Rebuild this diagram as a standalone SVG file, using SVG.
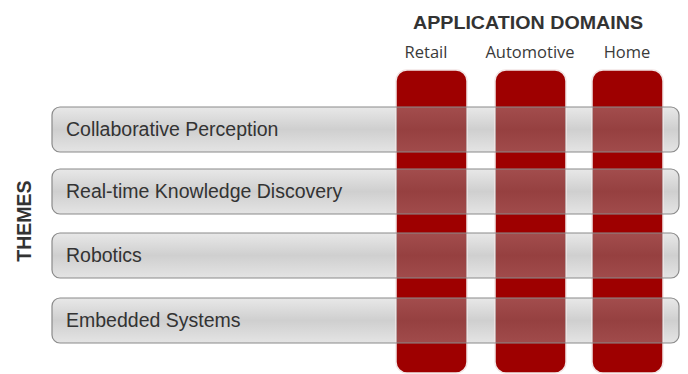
<svg xmlns="http://www.w3.org/2000/svg" width="688" height="374" viewBox="0 0 688 374">
  <defs>
    <linearGradient id="barFill" x1="0" y1="0" x2="0" y2="1">
      <stop offset="0" stop-color="#e8e8e8"/>
      <stop offset="0.5" stop-color="#cfcfcf"/>
      <stop offset="1" stop-color="#e4e4e4"/>
    </linearGradient>
    <linearGradient id="tintFill" x1="0" y1="0" x2="0" y2="1">
      <stop offset="0" stop-color="#a8a8a8"/>
      <stop offset="0.5" stop-color="#8c8c8c"/>
      <stop offset="1" stop-color="#a4a4a4"/>
    </linearGradient>
    <!-- the three domain columns, used to tint the bars where they cross -->
    <clipPath id="columns">
      <rect x="396" y="70" width="71" height="303" rx="11"/>
      <rect x="495" y="70" width="71" height="303" rx="11"/>
      <rect x="592" y="70" width="71" height="303" rx="11"/>
    </clipPath>
    <style>
      .col { fill: #9e0000; stroke: #f2e6e6; stroke-width: 1.5; }
      .bar { fill: url(#barFill); stroke: none; }
      .tint { fill: url(#tintFill); fill-opacity: 0.46; stroke: none; }
      .edge { fill: none; stroke: #8a8a8a; stroke-width: 1.2; }
      .theme { font-family: "Liberation Sans", Arial, sans-serif; font-size: 19.5px; fill: #333333; }
      .domain { font-family: "Open Sans", "Liberation Sans", sans-serif; font-size: 16.5px; fill: #3a3a3a; text-anchor: middle; }
      .heading { font-family: "Liberation Sans", Arial, sans-serif; font-weight: bold; fill: #333333; text-anchor: middle; }
    </style>
  </defs>
  <rect width="688" height="374" fill="#ffffff"/>

  <text class="heading" x="528" y="29" font-size="19" textLength="230" lengthAdjust="spacingAndGlyphs">APPLICATION DOMAINS</text>
  <text class="heading" transform="translate(31,221) rotate(-90)" font-size="19.5">THEMES</text>

  <!-- theme bars (opaque gray off the columns) -->
  <g id="bar-fills">
    <rect class="bar" x="52" y="107" width="627" height="45" rx="8"/>
    <rect class="bar" x="52" y="169" width="627" height="45" rx="8"/>
    <rect class="bar" x="52" y="233" width="627" height="45" rx="8"/>
    <rect class="bar" x="52" y="298" width="627" height="45" rx="8"/>
  </g>

  <!-- application domain columns -->
  <g id="retail">
    <rect class="col" x="396" y="70" width="71" height="303" rx="11"/>
    <text class="domain" x="426" y="58">Retail</text>
  </g>
  <g id="automotive">
    <rect class="col" x="495" y="70" width="71" height="303" rx="11"/>
    <text class="domain" x="530" y="58">Automotive</text>
  </g>
  <g id="home">
    <rect class="col" x="592" y="70" width="71" height="303" rx="11"/>
    <text class="domain" x="627" y="58">Home</text>
  </g>

  <!-- translucent bar sections lying over the columns -->
  <g id="bar-tints" clip-path="url(#columns)">
    <rect class="tint" x="52" y="107" width="627" height="45" rx="8"/>
    <rect class="tint" x="52" y="169" width="627" height="45" rx="8"/>
    <rect class="tint" x="52" y="233" width="627" height="45" rx="8"/>
    <rect class="tint" x="52" y="298" width="627" height="45" rx="8"/>
  </g>

  <g id="collaborative-perception">
    <rect class="edge" x="52" y="107" width="627" height="45" rx="8"/>
    <text class="theme" x="66" y="136">Collaborative Perception</text>
  </g>
  <g id="knowledge-discovery">
    <rect class="edge" x="52" y="169" width="627" height="45" rx="8"/>
    <text class="theme" x="66" y="198">Real-time Knowledge Discovery</text>
  </g>
  <g id="robotics">
    <rect class="edge" x="52" y="233" width="627" height="45" rx="8"/>
    <text class="theme" x="66" y="262">Robotics</text>
  </g>
  <g id="embedded-systems">
    <rect class="edge" x="52" y="298" width="627" height="45" rx="8"/>
    <text class="theme" x="66" y="327">Embedded Systems</text>
  </g>

  <g id="connectors"/>
</svg>
